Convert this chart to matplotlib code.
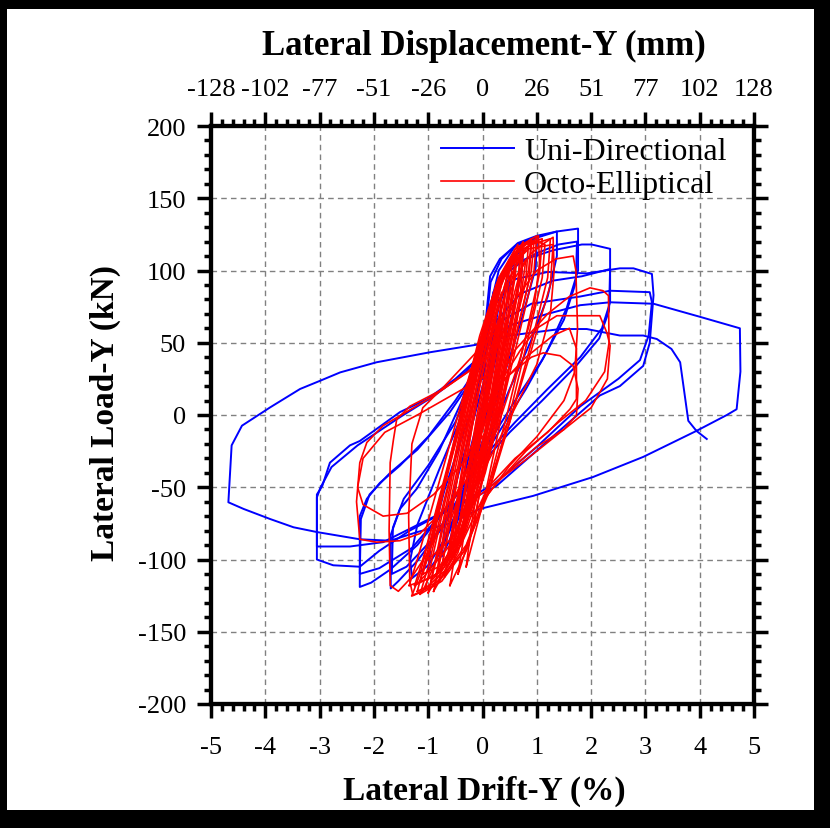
import matplotlib
matplotlib.use('Agg')
import matplotlib.pyplot as plt
from matplotlib.patches import Rectangle
from matplotlib.ticker import MultipleLocator

# drift (%) / load (kN) loops
uni_1 = [(0.0, 0), (0.12, 30), (0.25, 58), (0.2, 45), (0.05, 12), (-0.1, -22), (-0.25, -50), (-0.2, -38), (-0.05, -5), (0.0, 0)]
uni_2 = [(0.0, 5), (0.15, 45), (0.3, 75), (0.5, 96), (0.45, 78), (0.22, 35), (0.0, -2), (-0.2, -35), (-0.4, -66), (-0.5, -78), (-0.44, -60), (-0.2, -20), (0.0, 8)]
uni_3 = [(0.0, 15), (0.1, 55), (0.3, 90), (0.55, 108), (0.75, 115), (0.72, 98), (0.5, 62), (0.2, 18), (-0.1, -22), (-0.4, -62), (-0.6, -86), (-0.75, -98), (-0.7, -78), (-0.45, -42), (-0.2, -8), (0.0, 20)]
uni_4 = [(0.0, 25), (0.1, 68), (0.3, 100), (0.6, 117), (1.0, 122), (0.98, 102), (0.72, 66), (0.4, 28), (0.1, -8), (-0.3, -48), (-0.6, -80), (-0.85, -100), (-1.0, -108), (-0.95, -88), (-0.7, -52), (-0.4, -18), (-0.1, 15), (0.0, 35)]
uni_5 = [(0.0, 38), (0.15, 92), (0.35, 108), (0.65, 119), (1.0, 124), (1.37, 127), (1.37, 110), (1.2, 82), (0.9, 52), (0.5, 18), (0.1, -18), (-0.3, -52), (-0.7, -86), (-1.0, -104), (-1.3, -113), (-1.33, -100), (-1.2, -76), (-0.8, -38), (-0.4, -2), (0.0, 40)]
uni_6 = [(0.0, 42), (0.14, 96), (0.32, 108), (0.63, 118), (0.94, 122), (1.37, 127), (1.76, 129), (1.76, 100), (1.55, 74), (1.2, 45), (0.8, 18), (0.3, -12), (-0.2, -42), (-0.7, -76), (-1.2, -101), (-1.55, -115), (-1.69, -120), (-1.69, -83), (-1.52, -65), (-1.21, -51), (-0.8, -25), (-0.4, 8), (0.0, 45)]
uni_7 = [(0.0, 45), (0.2, 85), (0.5, 102), (1.0, 112), (1.4, 118), (1.74, 120), (1.72, 92), (1.5, 66), (1.1, 38), (0.6, 10), (0.1, -20), (-0.4, -55), (-0.9, -85), (-1.4, -105), (-1.67, -110), (-1.65, -78), (-1.45, -58), (-1.0, -35), (-0.5, -5), (0.0, 40)]
uni_8 = [(0.0, 40), (0.15, 75), (0.4, 97), (0.8, 108), (1.3, 114), (1.83, 118), (2.01, 118), (2.35, 115), (2.35, 78), (2.2, 60), (1.8, 40), (1.2, 18), (0.6, -5), (0.0, -30), (-0.6, -62), (-1.2, -90), (-1.7, -107), (-2.05, -116), (-2.26, -119), (-2.26, -70), (-2.13, -58), (-1.89, -47), (-1.52, -35), (-1.0, -15), (-0.5, 10), (0.0, 38)]
uni_9 = [(0.0, 38), (0.25, 65), (0.7, 84), (1.3, 93), (1.83, 96), (2.35, 101), (2.33, 72), (2.15, 53), (1.7, 33), (1.1, 10), (0.5, -12), (-0.1, -37), (-0.7, -66), (-1.3, -92), (-1.9, -106), (-2.26, -110), (-2.24, -72), (-2.08, -55), (-1.7, -40), (-1.2, -24), (-0.6, 2), (0.0, 35)]
uni_10 = [(0.0, 40), (0.2, 75), (0.6, 94), (1.2, 99), (1.92, 98), (2.53, 101.5), (2.78, 101.5), (3.12, 97.6), (3.15, 83), (3.08, 50), (2.96, 34), (2.53, 20), (2.16, 13.5), (1.2, -18), (0.26, -49), (-0.3, -60), (-0.84, -70), (-1.34, -80), (-1.9, -94), (-2.26, -105), (-2.75, -104), (-3.05, -100), (-3.05, -55), (-2.95, -49), (-2.81, -33), (-2.44, -21), (-2.26, -18), (-1.52, 2), (-1.02, 11), (-0.5, 25), (0.0, 42)]
uni_11 = [(0.0, 42), (0.3, 64), (0.9, 77), (1.8, 82), (2.35, 86), (3.08, 85), (3.12, 78), (3.06, 55), (2.9, 38), (2.5, 25), (1.8, 6), (1.0, -22), (0.2, -48), (-0.5, -63), (-1.3, -78), (-1.83, -88), (-2.44, -91), (-3.05, -91), (-3.05, -57), (-2.98, -50), (-2.78, -36), (-2.3, -21), (-1.5, -1), (-0.9, 13), (-0.3, 30), (0.0, 44)]
uni_12 = [(0.0, 44), (0.5, 62), (1.2, 70), (1.8, 76), (2.35, 78), (3.15, 77), (4.0, 68), (4.74, 60), (4.75, 30), (4.68, 4), (4.5, 0), (3.94, -11), (2.96, -29), (2.03, -43), (0.93, -56), (-0.05, -65), (-0.6, -75), (-1.2, -81), (-1.7, -87), (-2.26, -86), (-3.05, -81), (-3.48, -77.7), (-3.91, -72), (-4.4, -65), (-4.68, -60.4), (-4.62, -21), (-4.43, -7.4), (-3.91, 5.3), (-3.36, 18), (-2.99, 23.7), (-2.62, 29.5), (-1.95, 36.5), (-0.97, 43.4), (-0.05, 49), (0.5, 55), (1.43, 59.5), (1.92, 59.5), (2.53, 55), (2.96, 55), (3.21, 52.6), (3.48, 45.7), (3.64, 36.5), (3.79, -4), (3.94, -11), (4.13, -16.6)]

octo_c1 = [(-1.05, -120), (-0.9, -95), (-0.6, -45), (-0.35, 0), (-0.05, 50), (0.3, 95), (0.6, 115), (1.0, 124), (0.95, 100), (0.7, 60), (0.35, 5), (0.05, -40), (-0.3, -80), (-0.7, -108), (-1.05, -120)]
octo_c2 = [(-0.95, -115), (-0.8, -88), (-0.55, -40), (-0.3, 5), (0.0, 50), (0.3, 92), (0.6, 112), (0.85, 120), (0.8, 95), (0.55, 55), (0.3, 5), (0.0, -40), (-0.35, -80), (-0.7, -105), (-0.95, -115)]
octo_c3 = [(-0.85, -110), (-0.7, -80), (-0.45, -35), (-0.25, 5), (0.05, 55), (0.35, 95), (0.7, 115), (0.65, 90), (0.45, 50), (0.2, 0), (-0.1, -45), (-0.45, -85), (-0.85, -110)]
octo_c4 = [(-0.75, -105), (-0.6, -75), (-0.4, -30), (-0.2, 10), (0.1, 60), (0.35, 92), (0.55, 108), (0.5, 82), (0.3, 40), (0.1, -5), (-0.2, -50), (-0.5, -85), (-0.75, -105)]
octo_c5 = [(-0.65, -100), (-0.5, -65), (-0.3, -20), (-0.1, 20), (0.15, 62), (0.35, 90), (0.45, 100), (0.4, 75), (0.25, 35), (0.05, -10), (-0.2, -55), (-0.45, -85), (-0.65, -100)]
octo_c6 = [(-0.55, -92), (-0.4, -55), (-0.2, -10), (0.0, 30), (0.2, 65), (0.35, 85), (0.3, 62), (0.15, 25), (-0.05, -15), (-0.25, -55), (-0.45, -80), (-0.55, -92)]
octo_c7 = [(-0.45, -80), (-0.3, -45), (-0.1, 0), (0.1, 40), (0.25, 68), (0.22, 50), (0.08, 15), (-0.1, -25), (-0.3, -60), (-0.45, -80)]
octo_c8 = [(-1.2, -122), (-1.05, -100), (-0.75, -55), (-0.45, -10), (-0.15, 35), (0.2, 80), (0.5, 108), (0.8, 118), (1.1, 122), (1.05, 98), (0.8, 55), (0.45, 0), (0.1, -50), (-0.3, -90), (-0.8, -115), (-1.2, -122)]
octo_c9 = [(-1.1, -110), (-0.9, -85), (-0.65, -40), (-0.4, 0), (-0.1, 45), (0.25, 90), (0.55, 110), (0.9, 118), (0.85, 92), (0.6, 52), (0.3, 0), (0.0, -45), (-0.4, -85), (-0.8, -105), (-1.1, -110)]
octo_c10 = [(-1.3, -125), (-1.15, -110), (-0.85, -65), (-0.5, -15), (-0.2, 30), (0.15, 75), (0.5, 105), (0.9, 118), (1.25, 122), (1.2, 95), (0.9, 50), (0.5, -5), (0.1, -55), (-0.35, -95), (-0.9, -118), (-1.3, -125)]
octo_c11 = [(-1.0, -100), (-0.85, -70), (-0.6, -30), (-0.35, 10), (-0.05, 55), (0.3, 95), (0.75, 112), (0.7, 85), (0.45, 40), (0.2, -5), (-0.15, -50), (-0.55, -85), (-1.0, -100)]
octo_c12 = [(-0.9, -122), (-0.75, -95), (-0.5, -50), (-0.25, -5), (0.05, 45), (0.4, 100), (0.65, 118), (0.6, 95), (0.4, 55), (0.15, 0), (-0.15, -50), (-0.5, -95), (-0.9, -122)]
octo_c13 = [(-0.8, -115), (-0.65, -85), (-0.45, -40), (-0.2, 5), (0.1, 55), (0.4, 98), (0.75, 120), (0.7, 95), (0.5, 55), (0.25, 5), (-0.05, -45), (-0.4, -90), (-0.8, -115)]
octo_c14 = [(-1.15, -115), (-0.95, -90), (-0.7, -50), (-0.45, -12), (-0.15, 32), (0.15, 75), (0.45, 100), (0.7, 112), (0.65, 88), (0.4, 45), (0.15, -2), (-0.15, -45), (-0.55, -88), (-1.15, -115)]
octo_c15 = [(-1.25, -118), (-1.1, -100), (-0.8, -60), (-0.5, -20), (-0.25, 15), (0.05, 60), (0.35, 98), (0.65, 115), (0.95, 121), (0.9, 100), (0.65, 60), (0.35, 10), (0.0, -40), (-0.45, -90), (-0.85, -110), (-1.25, -118)]
octo_c16 = [(-0.7, -112), (-0.55, -80), (-0.35, -35), (-0.15, 5), (0.15, 55), (0.45, 95), (0.6, 110), (0.55, 85), (0.35, 40), (0.1, -10), (-0.2, -60), (-0.45, -95), (-0.7, -112)]
octo_c17 = [(-1.0, -123), (-0.85, -100), (-0.6, -55), (-0.35, -10), (-0.1, 35), (0.2, 80), (0.55, 110), (0.9, 122), (0.85, 100), (0.6, 62), (0.3, 10), (-0.05, -40), (-0.45, -90), (-1.0, -123)]
octo_c18 = [(-0.6, -95), (-0.45, -62), (-0.25, -20), (-0.05, 20), (0.2, 62), (0.45, 95), (0.5, 104), (0.45, 80), (0.28, 40), (0.08, -5), (-0.2, -52), (-0.4, -80), (-0.6, -95)]
octo_c19 = [(-1.15, -124), (-1.0, -105), (-0.7, -58), (-0.4, -15), (-0.1, 30), (0.25, 82), (0.6, 112), (1.0, 120), (1.15, 118), (1.1, 95), (0.85, 55), (0.5, 0), (0.15, -48), (-0.3, -92), (-0.75, -115), (-1.15, -124)]
octo_c20 = [(-0.35, -70), (-0.2, -35), (0.0, 5), (0.2, 45), (0.35, 72), (0.3, 55), (0.15, 20), (-0.05, -20), (-0.2, -50), (-0.35, -70)]
octo_c21 = [(-0.6, -118), (-0.5, -95), (-0.3, -50), (-0.1, -5), (0.15, 45), (0.45, 90), (0.7, 110), (0.65, 85), (0.45, 45), (0.25, 0), (0.0, -45), (-0.25, -90), (-0.6, -118)]
octo_c22 = [(-0.45, -110), (-0.35, -85), (-0.15, -40), (0.05, 5), (0.3, 55), (0.55, 95), (0.6, 100), (0.5, 70), (0.3, 25), (0.05, -30), (-0.15, -75), (-0.45, -110)]
octo_c23 = [(-1.35, -118), (-1.2, -100), (-0.9, -60), (-0.6, -20), (-0.3, 20), (0.1, 70), (0.45, 100), (0.85, 115), (1.3, 118), (1.25, 90), (0.9, 45), (0.5, -5), (0.1, -50), (-0.4, -90), (-0.9, -112), (-1.35, -118)]
octo_c24 = [(-0.3, -105), (-0.2, -75), (0.0, -30), (0.2, 15), (0.45, 65), (0.7, 100), (0.8, 108), (0.7, 80), (0.5, 35), (0.3, -10), (0.05, -55), (-0.3, -105)]
octo_n1 = [(0.2, 45), (-0.29, 29.5), (-0.91, 13), (-1.52, -0.5), (-1.83, -7.4), (-2.13, -19), (-2.26, -33), (-2.32, -60), (-2.26, -86), (-1.95, -88), (-1.52, -87), (-1.15, -82), (-0.7, -65), (-0.3, -45), (0.1, -15), (0.4, 15)]
octo_n2 = [(0.1, 40), (-0.1, 34), (-0.72, 18), (-1.34, 6), (-1.58, -3), (-1.64, -17), (-1.7, -33), (-1.72, -80), (-1.7, -118), (-1.55, -122), (-1.3, -112), (-1.0, -95), (-0.6, -65), (-0.2, -30), (0.15, 5)]
octo_n3 = [(0.3, 60), (-0.2, 40), (-0.7, 20), (-1.1, 5), (-1.3, -20), (-1.36, -70), (-1.34, -115), (-1.28, -125), (-1.1, -122), (-0.9, -105), (-0.6, -75), (-0.3, -40), (0.05, -5), (0.3, 30)]
octo_n4 = [(0.2, 30), (-0.5, 15), (-1.2, 0), (-1.8, -12), (-2.2, -30), (-2.3, -50), (-2.2, -62), (-1.83, -70), (-1.39, -68), (-0.9, -55), (-0.4, -35), (0.1, -10)]
octo_p1 = [(-0.3, -40), (0.1, 10), (0.6, 45), (1.2, 70), (1.6, 82), (1.98, 88), (2.22, 86), (2.32, 82.6), (2.33, 50), (2.25, 30), (1.9, 10), (1.4, -5), (0.8, -25), (0.2, -50), (-0.2, -70)]
octo_p2 = [(-0.3, -30), (0.2, 15), (0.7, 45), (1.0, 60), (1.37, 68.7), (2.16, 68.7), (2.29, 57), (2.35, 48), (2.3, 25), (2.0, 5), (1.5, -10), (0.9, -28), (0.3, -45), (-0.2, -60)]
octo_p3 = [(-0.2, -30), (0.2, 40), (0.6, 80), (1.0, 100), (1.35, 108), (1.67, 110), (1.72, 100), (1.75, 60), (1.7, 30), (1.5, 10), (1.0, -15), (0.5, -35), (0.0, -60)]
octo_p4 = [(-0.1, -10), (0.3, 20), (0.8, 40), (1.3, 55), (1.6, 60), (1.73, 46), (1.73, 11), (1.61, 4), (1.2, -12), (0.6, -30), (0.1, -50)]
octo_p5 = [(-0.1, -5), (0.4, 25), (0.9, 40), (1.12, 43), (1.43, 41), (1.67, 34), (1.76, 18), (1.73, 0), (1.5, -10), (1.0, -22), (0.5, -38)]
octo_p6 = [(-0.3, -60), (0.0, 0), (0.3, 60), (0.6, 95), (0.9, 112), (1.1, 118), (1.3, 123), (1.32, 100), (1.25, 70), (1.0, 35), (0.6, 5), (0.2, -25), (-0.2, -55)]
octo_p7 = [(-0.4, -70), (-0.1, -10), (0.2, 50), (0.5, 95), (0.8, 115), (1.03, 124), (1.05, 105), (0.95, 75), (0.7, 40), (0.35, 0), (0.0, -40), (-0.4, -70)]

uni_loops = [uni_1, uni_2, uni_3, uni_4, uni_5, uni_6, uni_7, uni_8, uni_9, uni_10, uni_11, uni_12]
octo_loops = [octo_n1, octo_n2, octo_n3, octo_n4, octo_p1, octo_p2, octo_p3, octo_p4, octo_p5, octo_p6, octo_p7,
              octo_c1, octo_c2, octo_c3, octo_c4, octo_c5, octo_c6, octo_c7, octo_c8, octo_c9, octo_c10,
              octo_c11, octo_c12, octo_c13, octo_c14, octo_c15, octo_c16, octo_c17, octo_c18, octo_c19, octo_c20,
              octo_c21, octo_c22, octo_c23, octo_c24]

drift_ticks = [-5, -4, -3, -2, -1, 0, 1, 2, 3, 4, 5]
disp_labels = ['-128', '-102', '-77', '-51', '-26', '0', '26', '51', '77', '102', '128']

plt.rcParams['font.family'] = ['Liberation Serif', 'DejaVu Serif']
plt.rcParams['axes.unicode_minus'] = False

fig = plt.figure(figsize=(8.30, 8.29), dpi=100)
fig.patch.set_facecolor('black')
fig.add_artist(Rectangle((7/830, 1 - 811/829), 807/830, 801/829, transform=fig.transFigure,
                         facecolor='white', edgecolor='none', zorder=-10))

ax = fig.add_axes([211/830, 124/829, 543/830, 578/829])

for i, loop in enumerate(uni_loops):
    xs, ys = zip(*loop)
    ax.plot(xs, ys, color='#0000ff', lw=1.4, zorder=2, label='Uni-Directional' if i == 0 else None)
for i, loop in enumerate(octo_loops):
    xs, ys = zip(*loop)
    ax.plot(xs, ys, color='#ff0000', lw=1.2, zorder=3, label='Octo-Elliptical' if i == 0 else None)

ax.set_xlim(-5, 5)
ax.set_ylim(-200, 200)
ax.set_xticks(drift_ticks)
ax.set_yticks(range(-200, 201, 50))
ax.xaxis.set_minor_locator(MultipleLocator(0.2))
ax.yaxis.set_minor_locator(MultipleLocator(10))
ax.grid(True, which='major', color='#808080', ls=(0, (4, 3)), lw=1.0)
ax.tick_params(which='both', direction='out', width=2.5, labelsize=19, right=True)
ax.tick_params(which='major', length=10)
ax.tick_params(axis='x', which='major', pad=13)
ax.tick_params(axis='y', which='major', pad=8)
ax.tick_params(which='minor', length=5)
for s in ax.spines.values():
    s.set_linewidth(3)

top = ax.twiny()
top.set_xlim(-5, 5)
top.set_xticks(drift_ticks)
top.set_xticklabels(disp_labels)
top.xaxis.set_minor_locator(MultipleLocator(0.2))
top.tick_params(which='both', direction='out', width=2.5, labelsize=19)
top.tick_params(which='major', length=10, pad=9)
top.tick_params(which='minor', length=5)
for s in top.spines.values():
    s.set_linewidth(3)

ax.legend(loc='upper left', bbox_to_anchor=(441/830, 1 - 138/829), bbox_transform=fig.transFigure,
          frameon=False, fontsize=23, handlelength=2.3, handletextpad=0.3, labelspacing=0.1,
          borderpad=0, borderaxespad=0)

fig.text(0.5825, 1 - 46/829, 'Lateral Displacement-Y (mm)', ha='center', va='center',
         fontsize=25, fontweight='bold')
fig.text(0.583, 1 - 791/829, 'Lateral Drift-Y (%)', ha='center', va='center',
         fontsize=24, fontweight='bold')
fig.text(105/830, 1 - 413/829, 'Lateral Load-Y (kN)', ha='center', va='center',
         rotation=90, fontsize=24, fontweight='bold')

fig.savefig('out.png', dpi=100, facecolor=fig.get_facecolor())
